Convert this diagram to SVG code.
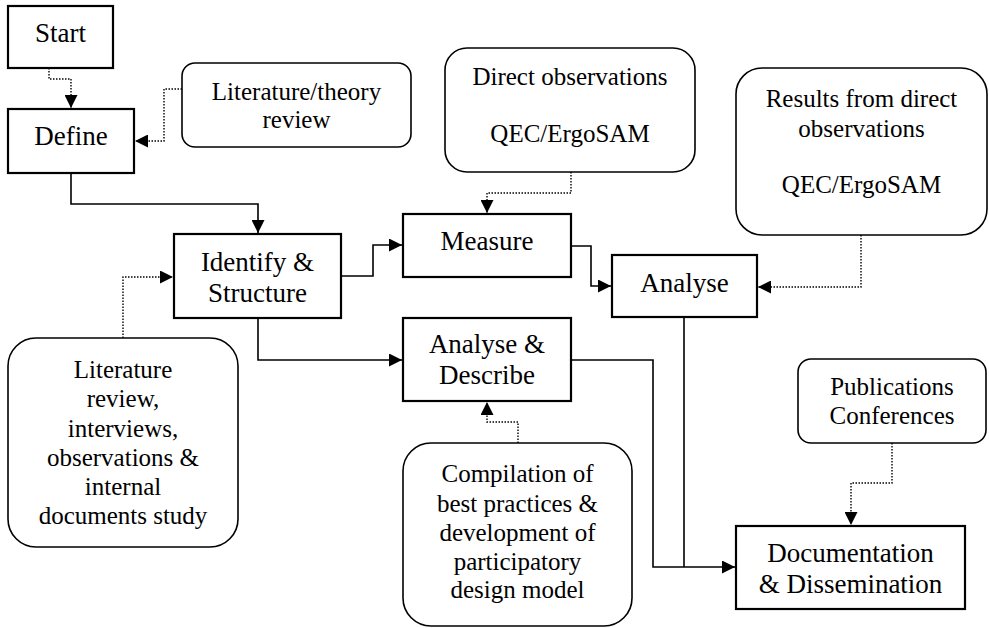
<svg xmlns="http://www.w3.org/2000/svg" width="989" height="628" viewBox="0 0 989 628">
  <style>
    .step { fill: #fff; stroke: #000; stroke-width: 2.2; }
    .note { fill: #fff; stroke: #000; stroke-width: 1.6; }
    .t1 { font-family: 'Liberation Serif', 'DejaVu Serif', serif; font-size: 27px; text-anchor: middle; fill: #000; }
    .t2 { font-family: 'Liberation Serif', 'DejaVu Serif', serif; font-size: 25px; text-anchor: middle; fill: #000; }
    .flow { fill: none; stroke: #000; stroke-width: 1.6; }
    .dot { fill: none; stroke: #000; stroke-width: 1.4; stroke-dasharray: 1.5 1.5; }
  </style>
  <defs>
    <marker id="arrow" viewBox="0 0 10 10" refX="10" refY="5" markerWidth="13" markerHeight="13" markerUnits="userSpaceOnUse" orient="auto">
      <path d="M0,0 L10,5 L0,10 z" fill="#000"/>
    </marker>
  </defs>

  <g id="connectors">
    <!-- dotted input links -->
    <polyline class="dot" points="49,68 49,79 71,79 71,108" marker-end="url(#arrow)"/>
    <polyline class="dot" points="182,89 164,89 164,141 135,141" marker-end="url(#arrow)"/>
    <polyline class="dot" points="571,172 571,193 487,193 487,213" marker-end="url(#arrow)"/>
    <polyline class="dot" points="861,235 861,287 758,287" marker-end="url(#arrow)"/>
    <polyline class="dot" points="123,338 123,277 173,277" marker-end="url(#arrow)"/>
    <polyline class="dot" points="518,443 518,422 487,422 487,402" marker-end="url(#arrow)"/>
    <polyline class="dot" points="892,443 892,483 851,483 851,525" marker-end="url(#arrow)"/>
    <!-- main flow -->
    <polyline class="flow" points="71,173 71,204 258,204 258,233" marker-end="url(#arrow)"/>
    <polyline class="flow" points="341,276 373,276 373,245 402,245" marker-end="url(#arrow)"/>
    <polyline class="flow" points="571,246 591,246 591,286 611,286" marker-end="url(#arrow)"/>
    <polyline class="flow" points="258,318 258,360 402,360" marker-end="url(#arrow)"/>
    <polyline class="flow" points="571,360 653,360 653,567 735,567" marker-end="url(#arrow)"/>
    <polyline class="flow" points="684,317 684,567"/>
  </g>

  <g id="start">
    <rect class="step" x="8" y="6" width="105" height="62"/>
    <text class="t1" x="60.5" y="42">Start</text>
  </g>
  <g id="define">
    <rect class="step" x="8" y="109" width="126" height="64"/>
    <text class="t1" x="71" y="145">Define</text>
  </g>
  <g id="lit-theory">
    <rect class="note" x="182" y="63" width="229" height="84" rx="13"/>
    <text class="t2" x="296.5" y="100">Literature/theory</text>
    <text class="t2" x="296.5" y="128">review</text>
  </g>
  <g id="identify">
    <rect class="step" x="174" y="234" width="167" height="84"/>
    <text class="t1" x="257.5" y="271">Identify &amp;</text>
    <text class="t1" x="257.5" y="302">Structure</text>
  </g>
  <g id="direct-obs">
    <rect class="note" x="445" y="48" width="250" height="124" rx="22"/>
    <text class="t2" x="570" y="85">Direct observations</text>
    <text class="t2" x="570" y="142">QEC/ErgoSAM</text>
  </g>
  <g id="measure">
    <rect class="step" x="403" y="214" width="168" height="63"/>
    <text class="t1" x="487" y="250">Measure</text>
  </g>
  <g id="results">
    <rect class="note" x="736" y="68" width="251" height="167" rx="26"/>
    <text class="t2" x="861.5" y="107">Results from direct</text>
    <text class="t2" x="861.5" y="137">observations</text>
    <text class="t2" x="861.5" y="193">QEC/ErgoSAM</text>
  </g>
  <g id="analyse">
    <rect class="step" x="612" y="255" width="145" height="62"/>
    <text class="t1" x="684.5" y="292">Analyse</text>
  </g>
  <g id="lit-interviews">
    <rect class="note" x="8" y="338" width="230" height="209" rx="28"/>
    <text class="t2" x="123" y="378">Literature</text>
    <text class="t2" x="123" y="407">review,</text>
    <text class="t2" x="123" y="437">interviews,</text>
    <text class="t2" x="123" y="466">observations &amp;</text>
    <text class="t2" x="123" y="495">internal</text>
    <text class="t2" x="123" y="524">documents study</text>
  </g>
  <g id="analyse-describe">
    <rect class="step" x="403" y="318" width="168" height="83"/>
    <text class="t1" x="487" y="353">Analyse &amp;</text>
    <text class="t1" x="487" y="384">Describe</text>
  </g>
  <g id="compilation">
    <rect class="note" x="403" y="443" width="229" height="183" rx="28"/>
    <text class="t2" x="517.5" y="482">Compilation of</text>
    <text class="t2" x="517.5" y="512">best practices &amp;</text>
    <text class="t2" x="517.5" y="541">development of</text>
    <text class="t2" x="517.5" y="570">participatory</text>
    <text class="t2" x="517.5" y="598">design model</text>
  </g>
  <g id="publications">
    <rect class="note" x="798" y="359" width="188" height="84" rx="13"/>
    <text class="t2" x="892" y="395">Publications</text>
    <text class="t2" x="892" y="424">Conferences</text>
  </g>
  <g id="documentation">
    <rect class="step" x="736" y="526" width="229" height="83"/>
    <text class="t1" x="850.5" y="562">Documentation</text>
    <text class="t1" x="850.5" y="593">&amp; Dissemination</text>
  </g>
</svg>
